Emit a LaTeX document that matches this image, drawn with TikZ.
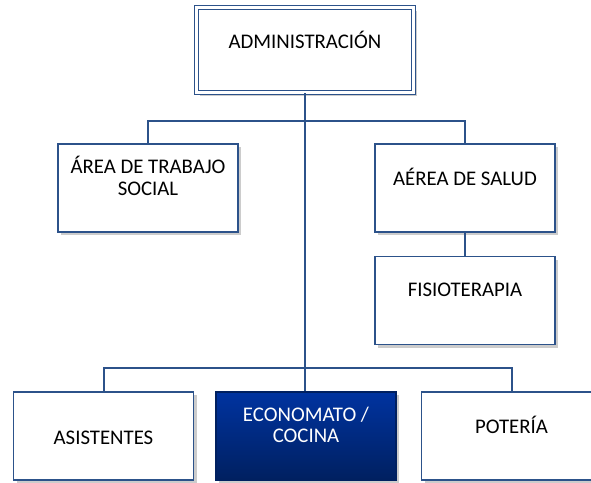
\documentclass[tikz,border=0pt]{standalone}
\usepackage{fontspec}
\setmainfont{Carlito}
\usetikzlibrary{positioning, shadows}

\definecolor{frameblue}{RGB}{44,82,138}
\definecolor{deepblue}{RGB}{0,32,96}
\definecolor{royalblue}{RGB}{0,51,160}

\begin{document}
\begin{tikzpicture}[
    x=1pt, y=-1pt,
    node distance=23pt,
    box/.style={rectangle, draw=frameblue, line width=1.5pt, fill=white, minimum width=180pt, minimum height=88pt,
        drop shadow={shadow xshift=3pt, shadow yshift=-3pt, fill=black!40, opacity=.5}},
    headbox/.style={box, double=white, double distance=2.2pt, line width=1.2pt, minimum width=217pt, minimum height=85pt},
    txt/.style={font=\fontsize{20.8}{21.5}\selectfont, align=center, yshift=11pt},
    conn/.style={draw=frameblue, line width=2pt}
]
\useasboundingbox (0,0) rectangle (591,482);

% levels
\node[headbox, label={[txt, yshift=-1pt]center:ADMINISTRACIÓN}] (admin) at (305,50) {};
\node[box, label={[txt, yshift=1pt]center:ÁREA DE TRABAJO\\SOCIAL}] (trabajo) at (148,188) {};
\node[box, label={[txt]center:AÉREA DE SALUD}] (salud) at (465,188) {};
\node[box, below=of salud, label={[txt]center:FISIOTERAPIA}] (fisio) {};

\node[box, label={[txt, yshift=-13pt]center:ASISTENTES}] (asist) at (103.5,436) {};
\node[box, right=21pt of asist, draw=deepblue, top color=royalblue, bottom color=deepblue,
    label={[txt, text=white]center:ECONOMATO /\\COCINA}] (econ) {};
\node[box, right=24pt of econ, label={[txt]center:POTERÍA}] (poteria) {};

% buses
\coordinate (topbus) at (0,121);
\coordinate (lowbus) at (0,368);

\draw[conn] (admin.south) -- (admin.south |- econ.north);
\draw[conn] (trabajo.north) -- (trabajo.north |- topbus) -- (salud.north |- topbus) -- (salud.north);
\draw[conn] (salud) -- (fisio);
\draw[conn] (asist.north) -- (asist.north |- lowbus) -- (poteria.north |- lowbus) -- (poteria.north);

\end{tikzpicture}
\end{document}
